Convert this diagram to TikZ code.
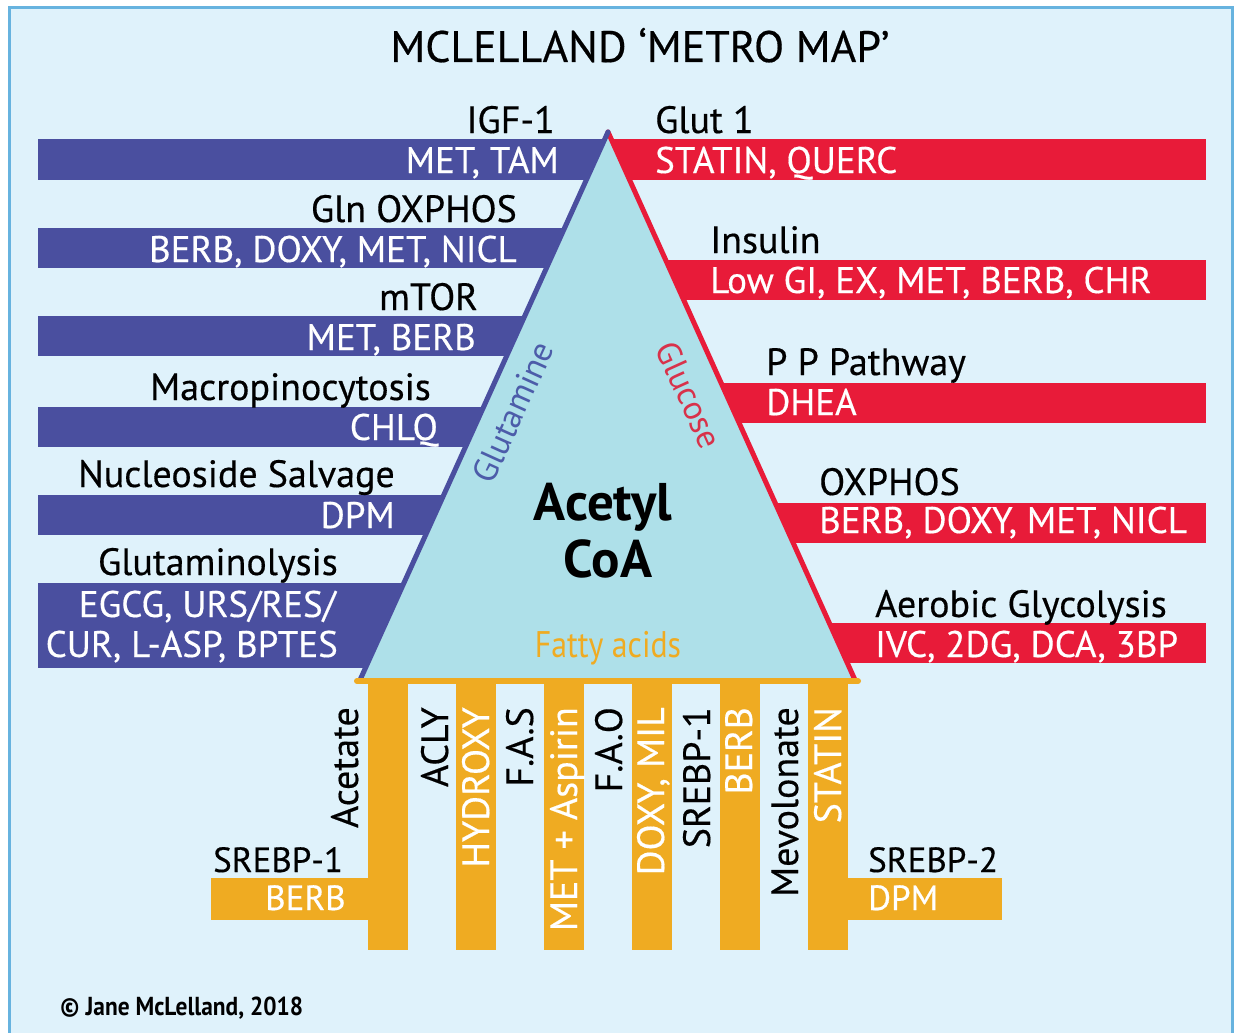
\documentclass[tikz,border=0pt]{standalone}
\usepackage{fontspec}
\setmainfont{PT Sans}
\newfontfamily\labelfont{PT Sans}[FakeBold=0.4]
\newfontfamily\narrowfont{PT Sans}[FakeStretch=0.86]
\newfontfamily\copyfont{PT Sans Bold}[FakeStretch=0.9]
\definecolor{mapbg}{HTML}{DFF2FB}
\definecolor{mapframe}{HTML}{67B3DF}
\definecolor{glnblue}{HTML}{4A4F9F}
\definecolor{glnword}{HTML}{4C5CA9}
\definecolor{glcred}{HTML}{E81B39}
\definecolor{glcword}{HTML}{D8324A}
\definecolor{fatorange}{HTML}{EFAB22}
\definecolor{trifill}{HTML}{AEE0E9}
\tikzset{
  pathlbl/.style={font=\labelfont\fontsize{38}{40}\selectfont, text=black, inner sep=0pt},
  druglbl/.style={font=\labelfont\fontsize{37}{40}\selectfont, text=white, inner sep=0pt},
  srebplbl/.style={font=\labelfont\fontsize{35}{38}\selectfont, inner sep=0pt, anchor=base west},
  vertlbl/.style={font=\labelfont\fontsize{38}{40}\selectfont, rotate=90, anchor=base east, inner sep=0pt},
}
\begin{document}
\begin{tikzpicture}[x=1pt,y=1pt,yscale=-1]
\useasboundingbox (0,0) rectangle (1235,1033);
%Shape: Background
\fill[white] (0,0) rectangle (1235,1033);
\draw[draw=mapframe, fill=mapbg, line width=3] (9,8) rectangle (1232,1045);

%Coordinates of the triangle
\coordinate (apex) at (608,132);
\coordinate (bl) at (360,680);
\coordinate (br) at (855,680);

%Shape: Blue bars (glutamine side)
\begin{scope}
\clip (0,0) -- (608,0) -- (apex) -- (bl) -- (0,680) -- cycle;
\fill[glnblue] (38,139) rectangle (700,180);
\fill[glnblue] (38,228) rectangle (700,268);
\fill[glnblue] (38,316) rectangle (700,356);
\fill[glnblue] (38,407) rectangle (700,447);
\fill[glnblue] (38,495) rectangle (700,535);
\fill[glnblue] (38,583) rectangle (700,668);
\end{scope}

%Shape: Red bars (glucose side)
\begin{scope}
\clip (1235,0) -- (608,0) -- (apex) -- (br) -- (1235,680) -- cycle;
\fill[glcred] (500,139) rectangle (1206,180);
\fill[glcred] (500,260) rectangle (1206,300);
\fill[glcred] (500,383) rectangle (1206,423);
\fill[glcred] (500,503) rectangle (1206,543);
\fill[glcred] (500,623) rectangle (1206,663);
\end{scope}

%Shape: Triangle
\fill[trifill] (apex) -- (bl) -- (br) -- cycle;
\draw[glcred, line width=5, line cap=round] (apex) -- (br);
\draw[glnblue, line width=5, line cap=round] (apex) -- (bl);

%Shape: Orange bars (fatty acid side)
\fill[fatorange] (368,680) rectangle (408,950);
\fill[fatorange] (456,680) rectangle (496,950);
\fill[fatorange] (544,680) rectangle (584,950);
\fill[fatorange] (632,680) rectangle (672,950);
\fill[fatorange] (720,680) rectangle (760,950);
\fill[fatorange] (808,680) rectangle (848,950);
\fill[fatorange] (211,878) rectangle (368,920);
\fill[fatorange] (848,878) rectangle (1002,920);
%Straight Lines: base
\draw[fatorange, line width=6, line cap=round] (357,681) -- (858,681);

% Text Node: title
\node[font=\labelfont\fontsize{44}{48}\selectfont, anchor=base, inner sep=0pt] (title) at (640,62) {MCLELLAND ‘METRO MAP’};

% Text Node: glutamine side
\node[pathlbl, anchor=base east] (igf) at (555,133) {IGF-1};
\node[druglbl, anchor=base east] (igfdrug) at (559,173) {MET, TAM};
\node[pathlbl, anchor=base east] (gln) at (517,222) {Gln OXPHOS};
\node[druglbl, anchor=base east] (glndrug) at (517,262) {BERB, DOXY, MET, NICL};
\node[pathlbl, anchor=base east] (mtor) at (478,310) {mTOR};
\node[druglbl, anchor=base east] (mtordrug) at (476,350) {MET, BERB};
\node[pathlbl, anchor=base east] (macro) at (431,400) {Macropinocytosis};
\node[druglbl, anchor=base east] (macrodrug) at (438,440) {CHLQ};
\node[pathlbl, anchor=base east] (nucl) at (395,487) {Nucleoside Salvage};
\node[druglbl, anchor=base east] (nucldrug) at (395,528) {DPM};
\node[pathlbl, anchor=base east] (glnlys) at (338,575) {Glutaminolysis};
\node[druglbl, anchor=base east] (glnlysdrug) at (336,617) {EGCG, URS/RES/};
\node[druglbl, anchor=base east] (glnlysdrugb) at (338,657) {CUR, L-ASP, BPTES};

% Text Node: glucose side
\node[pathlbl, anchor=base west] (glut) at (655,133) {Glut 1};
\node[druglbl, anchor=base west] (glutdrug) at (655,173) {STATIN, QUERC};
\node[pathlbl, anchor=base west] (ins) at (710,253) {Insulin};
\node[druglbl, anchor=base west] (insdrug) at (710,293) {Low GI, EX, MET, BERB, CHR};
\node[pathlbl, anchor=base west] (ppp) at (766,375) {P P Pathway};
\node[druglbl, anchor=base west] (pppdrug) at (766,415) {DHEA};
\node[pathlbl, anchor=base west] (ox) at (819,495) {OXPHOS};
\node[druglbl, anchor=base west] (oxdrug) at (819,533) {BERB, DOXY, MET, NICL};
\node[pathlbl, anchor=base west] (aer) at (875,617) {Aerobic Glycolysis};
\node[druglbl, anchor=base west] (aerdrug) at (875,657) {IVC, 2DG, DCA, 3BP};

% Text Node: inside the triangle
\node[font=\fontsize{34}{36}\selectfont, text=glnword, rotate=65.6, inner sep=0pt] (glnword) at (513,412) {Glutamine};
\node[font=\fontsize{34}{36}\selectfont, text=glcword, rotate=-65.6, inner sep=0pt] (glcword) at (689,395) {Glucose};
\node[font=\bfseries\fontsize{53}{56}\selectfont, anchor=base, inner sep=0pt] (acetyl) at (603,520) {Acetyl};
\node[font=\bfseries\fontsize{53}{56}\selectfont, anchor=base, inner sep=0pt] (coa) at (608,577) {CoA};
\node[font=\narrowfont\fontsize{37}{40}\selectfont, text=fatorange, anchor=base, inner sep=0pt] (fatty) at (608,657) {Fatty acids};

% Text Node: fatty acid side
\node[vertlbl] (acetate) at (358,707) {Acetate};
\node[vertlbl] (acly) at (448,707) {ACLY};
\node[vertlbl, text=white] (hydroxy) at (489,707) {HYDROXY};
\node[vertlbl] (fas) at (533,707) {F.A.S};
\node[vertlbl, text=white] (aspirin) at (577,707) {MET + Aspirin};
\node[vertlbl] (fao) at (622,707) {F.A.O};
\node[vertlbl, text=white] (doxy) at (664,707) {DOXY, MIL};
\node[vertlbl] (srebpv) at (710,707) {SREBP-1};
\node[vertlbl, text=white] (berbv) at (752,707) {BERB};
\node[vertlbl] (mevo) at (798,707) {Mevolonate};
\node[vertlbl, text=white] (statin) at (841,707) {STATIN};
\node[srebplbl] (srebpa) at (213,872) {SREBP-1};
\node[srebplbl, text=white] (srebpadrug) at (265,910) {BERB};
\node[srebplbl] (srebpb) at (868,872) {SREBP-2};
\node[srebplbl, text=white] (srebpbdrug) at (868,910) {DPM};

% Text Node: copyright
\node[font=\copyfont\fontsize{26}{30}\selectfont, anchor=base west, inner sep=0pt] (copy) at (60,1015) {© Jane McLelland, 2018};
\end{tikzpicture}
\end{document}
